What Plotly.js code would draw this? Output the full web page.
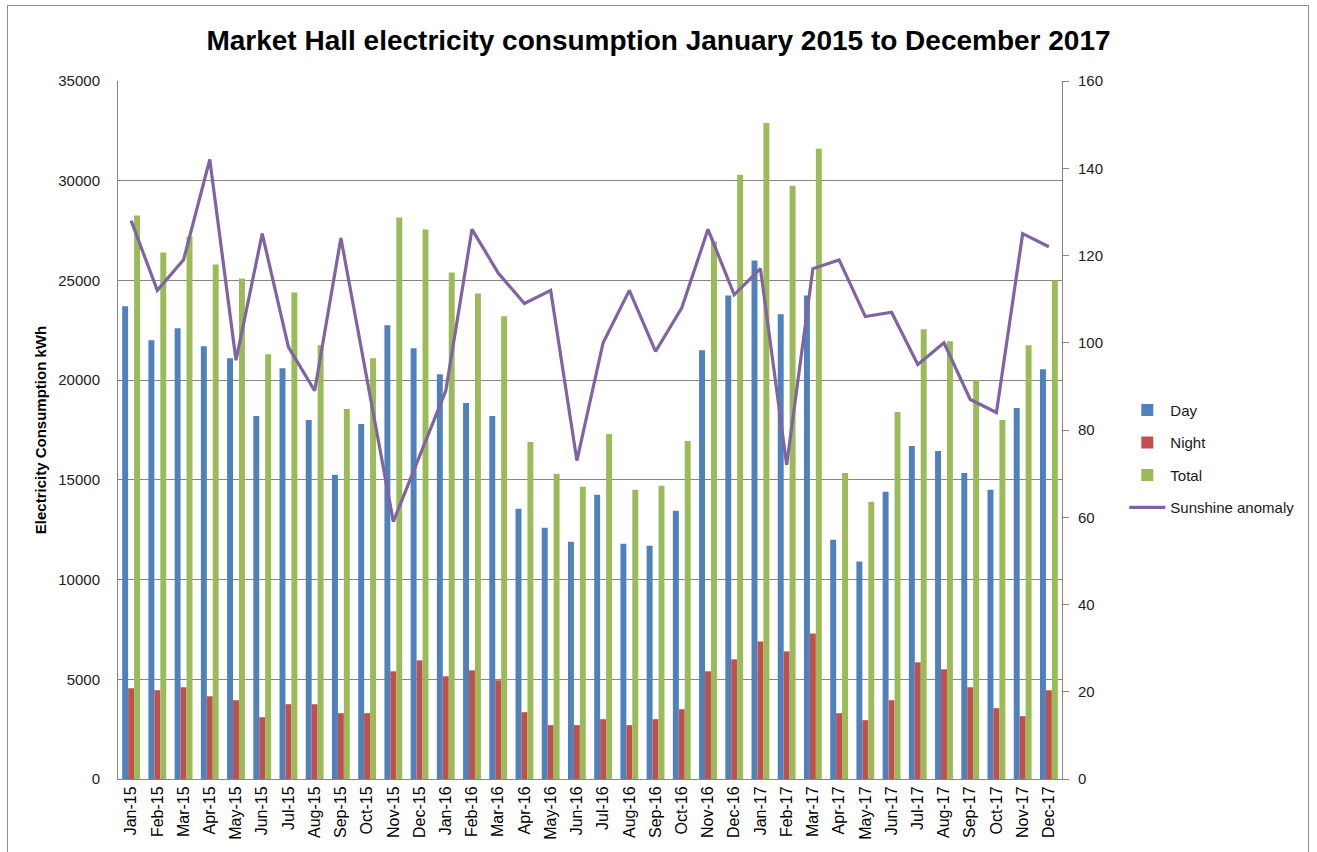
<!DOCTYPE html>
<html>
<head>
<meta charset="utf-8">
<script src="https://cdn.plot.ly/plotly-3.0.1.min.js"></script>
<style>
  html, body { margin: 0; padding: 0; background: #fff; }
  #wrap { position: relative; width: 1317px; height: 852px; }
  #chart { width: 1317px; height: 852px; }
  #frame { position: absolute; left: 7px; top: 5px; width: 1302px; height: 860px;
           border: 1px solid #8c8c8c; pointer-events: none; box-sizing: border-box; }
</style>
</head>
<body>
<div id="wrap">
  <div id="chart"></div>
  <div id="frame"></div>
</div>
<script>
const months = ["Jan-15","Feb-15","Mar-15","Apr-15","May-15","Jun-15","Jul-15","Aug-15","Sep-15","Oct-15","Nov-15","Dec-15",
                "Jan-16","Feb-16","Mar-16","Apr-16","May-16","Jun-16","Jul-16","Aug-16","Sep-16","Oct-16","Nov-16","Dec-16",
                "Jan-17","Feb-17","Mar-17","Apr-17","May-17","Jun-17","Jul-17","Aug-17","Sep-17","Oct-17","Nov-17","Dec-17"];

const dayKWh = [23700, 22000, 22600, 21700, 21100, 18200, 20600, 18000, 15250, 17800, 22750, 21600,
                20300, 18850, 18200, 13550, 12600, 11900, 14250, 11800, 11700, 13450, 21500, 24250,
                26000, 23300, 24250, 12000, 10900, 14400, 16700, 16450, 15350, 14500, 18600, 20550];

const nightKWh = [4550, 4450, 4600, 4150, 3950, 3100, 3750, 3750, 3300, 3300, 5400, 5950,
                  5150, 5450, 4950, 3350, 2700, 2700, 3000, 2700, 3000, 3500, 5400, 6000,
                  6900, 6400, 7300, 3300, 2950, 3950, 5850, 5500, 4600, 3550, 3150, 4450];

const totalKWh = [28250, 26400, 27200, 25800, 25100, 21300, 24400, 21750, 18550, 21100, 28150, 27550,
                  25400, 24350, 23200, 16900, 15300, 14650, 17300, 14500, 14700, 16950, 26950, 30300,
                  32900, 29750, 31600, 15350, 13900, 18400, 22550, 21950, 20000, 18000, 21750, 25000];

const sunshineAnomaly = [128, 112, 119, 142, 96, 125, 99, 89, 124, 91, 59, 74,
                         89, 126, 116, 109, 112, 73, 100, 112, 98, 108, 126, 111,
                         117, 72, 117, 119, 106, 107, 95, 100, 87, 84, 125, 122];

const seriesNames = ["Day", "Night", "Total", "Sunshine anomaly"];
const leftTicks = [0, 5000, 10000, 15000, 20000, 25000, 30000, 35000];
const rightTicks = [0, 20, 40, 60, 80, 100, 120, 140, 160];

const traces = [
  { type: "bar", name: seriesNames[0], legendgroup: "a", x: months, y: dayKWh, marker: { color: "#4F81BD" } },
  { type: "bar", name: seriesNames[1], legendgroup: "b", x: months, y: nightKWh, marker: { color: "#C0504D" } },
  { type: "bar", name: seriesNames[2], legendgroup: "c", x: months, y: totalKWh, marker: { color: "#9BBB59" } },
  { type: "scatter", mode: "lines", name: seriesNames[3], legendgroup: "d", x: months, y: sunshineAnomaly, yaxis: "y2",
    line: { color: "#8064A2", width: 3.2 } }
];

const layout = {
  width: 1317, height: 852,
  margin: { l: 118, r: 255, t: 81, b: 73, pad: 0 },
  paper_bgcolor: "#ffffff", plot_bgcolor: "#ffffff",
  font: { family: "Liberation Sans, Arial, sans-serif", color: "#1a1a1a", size: 14 },
  title: { text: "<b>Market Hall electricity consumption January 2015 to December 2017</b>",
           font: { family: "Liberation Sans, Arial, sans-serif", size: 28, color: "#000" },
           x: 0.5, xref: "container", xanchor: "center", y: 0.953, yref: "container", yanchor: "middle" },
  barmode: "group", bargap: 0.32, bargroupgap: 0,
  showlegend: true,
  legend: { x: 1.066, xanchor: "left", y: 0.552, yanchor: "top", traceorder: "grouped",
            font: { size: 15, color: "#1a1a1a" }, tracegroupgap: 10, itemwidth: 36,
            bgcolor: "rgba(0,0,0,0)" },
  xaxis: { type: "category", tickangle: -90, showgrid: false, showline: true, linecolor: "#868686",
           linewidth: 1, ticks: "", tickfont: { size: 16, color: "#000" }, automargin: false },
  yaxis: { range: [0, 35000], tickvals: leftTicks, ticktext: leftTicks.map(String), showgrid: true,
           gridcolor: "#868686", gridwidth: 1, showline: true, linecolor: "#868686", linewidth: 1,
           ticks: "", ticklen: 0, tickfont: { size: 15, color: "#222" }, ticklabelstandoff: 14,
           zeroline: false, automargin: false,
           title: { text: "<b>Electricity Consumption kWh</b>", font: { size: 15, color: "#000" }, standoff: 8 } },
  yaxis2: { range: [0, 160], tickvals: rightTicks, ticktext: rightTicks.map(String), overlaying: "y",
            side: "right", showgrid: false, showline: true, linecolor: "#868686", linewidth: 1,
            ticks: "outside", ticklen: 6, tickcolor: "#868686", tickfont: { size: 15, color: "#222" },
            ticklabelstandoff: 6, zeroline: false, automargin: false }
};

Plotly.newPlot("chart", traces, layout, { staticPlot: true, displayModeBar: false });
</script>
</body>
</html>
